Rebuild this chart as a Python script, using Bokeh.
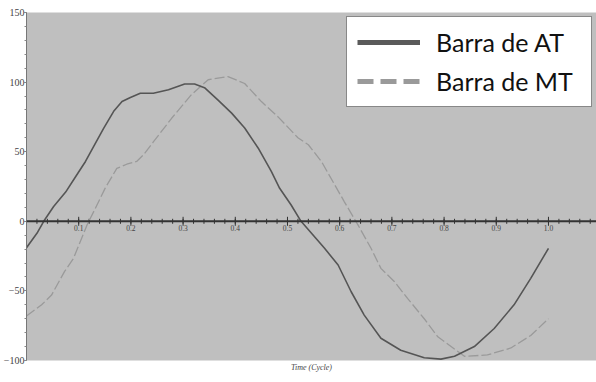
import numpy as np
from bokeh.plotting import figure
from bokeh.models import Legend, LegendItem, FixedTicker, Span
from bokeh.embed import file_html
from bokeh.resources import INLINE

# ---- data ----
t_at = [0.0, 0.020, 0.033, 0.052, 0.075, 0.094, 0.113, 0.129, 0.148, 0.167, 0.183, 0.199,
        0.218, 0.243, 0.272, 0.303, 0.322, 0.341, 0.367, 0.393, 0.418, 0.444, 0.469, 0.485,
        0.507, 0.526, 0.546, 0.571, 0.597, 0.622, 0.647, 0.679, 0.717, 0.762, 0.794, 0.82,
        0.858, 0.896, 0.934, 0.966, 1.0]
v_at = [-19, -8.6, 0, 10.6, 21, 32, 43, 54, 67, 79, 86, 89,
        92, 92, 94.5, 98.6, 98.6, 96, 87, 77.7, 67, 52.5, 35.8, 23.7,
        11.7, 0, -8.6, -19.4, -31.4, -50.6, -67.4, -84, -92.6, -98, -99, -97,
        -90, -77, -60, -41, -19.4]

t_mt = [0.0, 0.029, 0.048, 0.073, 0.09, 0.116, 0.132, 0.151, 0.173, 0.192, 0.211, 0.224,
        0.243, 0.278, 0.316, 0.348, 0.386, 0.418, 0.45, 0.482, 0.52, 0.54, 0.565, 0.609,
        0.635, 0.66, 0.679, 0.705, 0.73, 0.762, 0.788, 0.839, 0.883, 0.928, 0.966, 1.0]
v_mt = [-68, -60, -53, -36, -26.6, -2.6, 9.4, 24, 38, 41, 43, 47.7,
        57, 74, 91, 101.7, 104, 99, 86, 75, 60, 55, 43, 14,
        -2.6, -19.4, -33.8, -43.4, -55.4, -70, -83, -97, -96, -91, -82, -70]

series_names = ["Barra de AT", "Barra de MT"]
x_major = [0.1, 0.2, 0.3, 0.4, 0.5, 0.6, 0.7, 0.8, 0.9, 1.0]
x_major_labels = ["0.1", "0.2", "0.3", "0.4", "0.5", "0.6", "0.7", "0.8", "0.9", "1.0"]
x_minor = [round(0.02 * i, 2) for i in range(1, 56)]
y_major = [-100, -50, 0, 50, 100, 150]
y_minor = list(range(-100, 151, 10))
x_title = "Time (Cycle)"

p = figure(width=596, height=382, output_backend="svg", toolbar_location=None,
           x_range=(0, 1.092), y_range=(-100, 150),
           min_border_left=17, min_border_top=12, min_border_bottom=22, min_border_right=0)
p.background_fill_color = "#bfbfbf"
p.border_fill_color = "white"
p.outline_line_color = None
p.grid.visible = False

# y axis
ya = p.yaxis[0]
ya.ticker = FixedTicker(ticks=y_major, minor_ticks=y_minor)
ya.major_label_text_font = "Liberation Serif"
ya.major_label_text_font_size = "10px"
ya.major_label_text_color = "#444444"
ya.major_label_standoff = 0
ya.major_tick_out = 2
ya.major_tick_in = 0
ya.minor_tick_out = 2
ya.minor_tick_in = 0
ya.axis_line_color = "#777777"
ya.major_tick_line_color = "#666666"
ya.minor_tick_line_color = "#888888"

# x axis: only the title below
xa = p.xaxis[0]
xa.ticker = FixedTicker(ticks=[])
xa.major_tick_out = 0
xa.minor_tick_out = 0
xa.axis_line_color = None
xa.major_label_text_font_size = "0px"
xa.axis_label = x_title
xa.axis_label_text_font = "Liberation Serif"
xa.axis_label_text_font_style = "italic"
xa.axis_label_text_font_size = "8px"
xa.axis_label_text_color = "#444444"
xa.axis_label_standoff = 2

# zero line with ticks and labels
p.add_layout(Span(location=0, dimension="width", line_color="#333333", line_width=2))
p.scatter(x=x_minor, y=[0] * len(x_minor), marker="dash", angle=np.pi / 2, size=5,
          line_color="#333333", line_width=1)
p.scatter(x=x_major, y=[0] * len(x_major), marker="dash", angle=np.pi / 2, size=9,
          line_color="#333333", line_width=1)
p.text(x=x_major, y=[0] * len(x_major), text=x_major_labels, text_align="center",
       text_baseline="top", y_offset=4, text_font_size="7.5px", text_color="#444444",
       text_font="Liberation Serif")

# curves
r_mt = p.line(t_mt, v_mt, line_color="#9a9a9a", line_width=1.3, line_dash="10 3")
r_at = p.line(t_at, v_at, line_color="#555555", line_width=1.6)

# legend samples (thicker), not drawn in the plot area
l_at = p.line([np.nan], [np.nan], line_color="#5a5a5a", line_width=5)
l_mt = p.line([np.nan], [np.nan], line_color="#9a9a9a", line_width=5, line_dash="16 7")

legend = Legend(items=[LegendItem(label=series_names[0], renderers=[l_at]),
                       LegendItem(label=series_names[1], renderers=[l_mt])],
                location="top_right", margin=4, padding=10, spacing=9,
                glyph_width=63, glyph_height=30, label_height=30, label_width=145,
                label_standoff=16,
                label_text_font="Lato", label_text_font_size="25px",
                label_text_color="#111111",
                border_line_color="#111111", border_line_width=1.5,
                background_fill_color="white", background_fill_alpha=1)
p.add_layout(legend)

open("out.html", "w").write(file_html(p, INLINE))
